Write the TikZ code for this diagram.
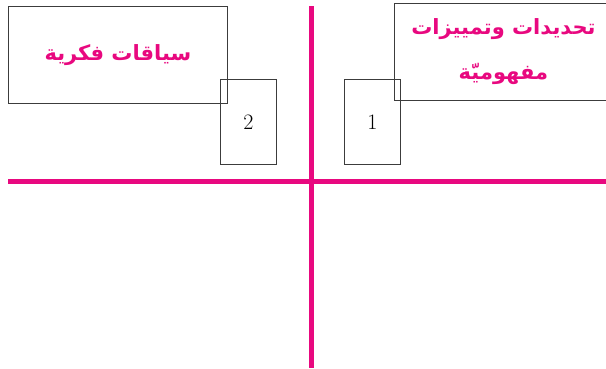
\documentclass[tikz,border=0pt]{standalone}
\usepackage{fontspec}
\usepackage{xcolor}
\TeXXeTstate=1
\newfontfamily\arabicfont[Script=Arabic]{DejaVu Sans}
\usetikzlibrary{positioning}
\definecolor{rose}{HTML}{E8087F}
\definecolor{frame}{HTML}{3C3C3C}
\tikzset{
  axis/.style={draw=rose,line width=5pt},
  card/.style={draw=frame,line width=0.9pt,inner sep=0pt,anchor=north west,align=center},
  title/.style={card,text=rose,font=\arabicfont\bfseries\fontsize{21}{45}\selectfont},
  numbox/.style={card,minimum width=56pt,minimum height=85pt,font=\fontsize{22}{26}\selectfont},
}

\begin{document}
\begin{tikzpicture}[x=1pt,y=-1pt]
    \useasboundingbox (0,0) rectangle (606,368);
    % axes
    \coordinate (top) at (311,6);
    \coordinate (bottom) at (311,368);
    \coordinate (left) at (8,181);
    \coordinate (right) at (606,181);
    \draw[axis] (top) -- (bottom);
    \draw[axis] (left) -- (right);
    % boxes
    \node[title,minimum width=219pt,minimum height=97pt] (context) at (8,6) {\beginR سياقات فكرية\endR};
    \node[title,minimum width=218pt,minimum height=97pt] (concepts) at (394,3) {\beginR تحديدات وتمييزات\endR\\\beginR مفهوميّة\endR};
    \node[numbox] (two) at (220,79) {2};
    \node[numbox] (one) at (344,79) {1};
  \end{tikzpicture}
\end{document}
